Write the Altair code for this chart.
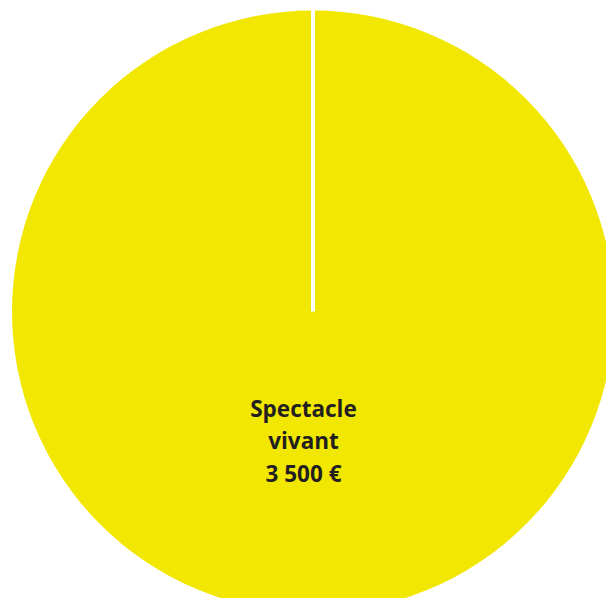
import altair as alt
import pandas as pd

categories = ["Spectacle vivant"]
values = [3500]
labels = ["Spectacle\nvivant\n3 500 €"]

df = pd.DataFrame({"categorie": categories, "montant": values, "label": labels})

CX, CY, R = 305, 303.5, 301

pie = alt.Chart(df).mark_arc(outerRadius=R, color="#F2E700").encode(
    theta=alt.Theta("montant:Q"),
    x=alt.value(CX),
    y=alt.value(CY),
)

sep = alt.Chart(df).mark_rule(color="white", strokeWidth=4).encode(
    x=alt.value(CX),
    y=alt.value(CY - R - 2),
    y2=alt.value(CY),
)

text = alt.Chart(df).mark_text(
    font="Open Sans", fontWeight="bold", fontSize=22.5, color="#231F20",
    lineBreak="\n", lineHeight=32.5, align="center", baseline="alphabetic",
).encode(
    text="label:N",
    x=alt.value(295.5),
    y=alt.value(408.7),
)

chart = alt.layer(pie, sep, text).properties(
    width=598, height=590, padding=0, autosize=alt.AutoSizeParams(type="none")
).configure_view(stroke=None)

chart.save("out.html", embed_options={"renderer": "svg", "actions": False})
